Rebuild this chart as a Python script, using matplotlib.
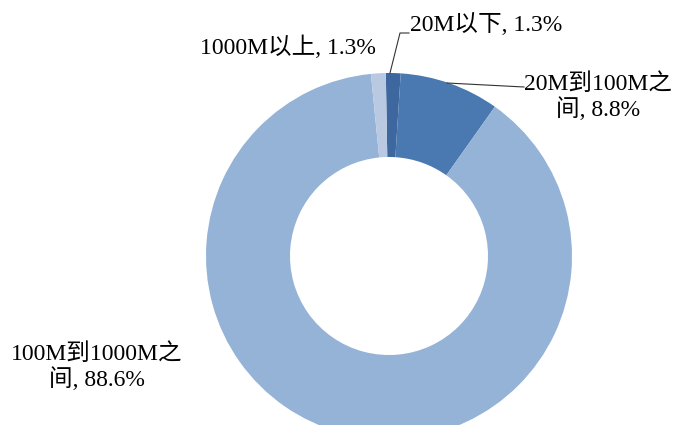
import matplotlib
matplotlib.use('Agg')
import matplotlib.pyplot as plt

# data
categories = ['20M以下', '20M到100M之间', '100M到1000M之间', '1000M以上']
shares = [1.3, 8.8, 88.6, 1.3]
label_texts = ['20M以下, 1.3%', '20M到100M之\n间, 8.8%',
               '100M到1000M之\n间, 88.6%', '1000M以上, 1.3%']
colors = ['#3d679e', '#4a78b1', '#95b3d7', '#b9c9e2']

plt.rcParams['font.family'] = ['Liberation Serif', 'Noto Sans CJK SC', 'DejaVu Sans']

W, H = 676, 425
fig = plt.figure(figsize=(W / 100, H / 100), dpi=100)

# donut centre (389, 256) px, outer radius 183 px
cx, cy, r = 389, 256, 183
ax = fig.add_axes([(cx - r) / W, (H - cy - r) / H, 2 * r / W, 2 * r / H])

wedges, _ = ax.pie(shares, colors=colors, startangle=91, counterclock=False,
                   radius=1.0, wedgeprops=dict(width=1 - 99 / 183, linewidth=0))
ax.set_xlim(-1, 1)
ax.set_ylim(-1, 1)
ax.set_aspect('equal')
ax.axis('off')


def px(x, y):
    # pixel (from top-left) -> data coords of the pie axes
    return (x - cx) / r, (cy - y) / r


fs = 17
lc = '#333333'
# 20M以下
ax.plot(*zip(px(390, 73), px(400, 33), px(409, 33)), color=lc, lw=0.8, clip_on=False)
ax.text(*px(410, 25), label_texts[0], fontsize=fs, ha='left', va='center')
# 20M到100M之间
ax.plot(*zip(px(447, 83), px(524, 87)), color=lc, lw=0.8, clip_on=False)
ax.text(*px(598, 97), label_texts[1], fontsize=fs, ha='center', va='center',
        linespacing=1.1)
# 100M到1000M之间
ax.text(*px(97, 367), label_texts[2], fontsize=fs, ha='center', va='center',
        linespacing=1.1)
# 1000M以上
ax.text(*px(288, 47), label_texts[3], fontsize=fs, ha='center', va='center')

fig.savefig('out.png', dpi=100)
